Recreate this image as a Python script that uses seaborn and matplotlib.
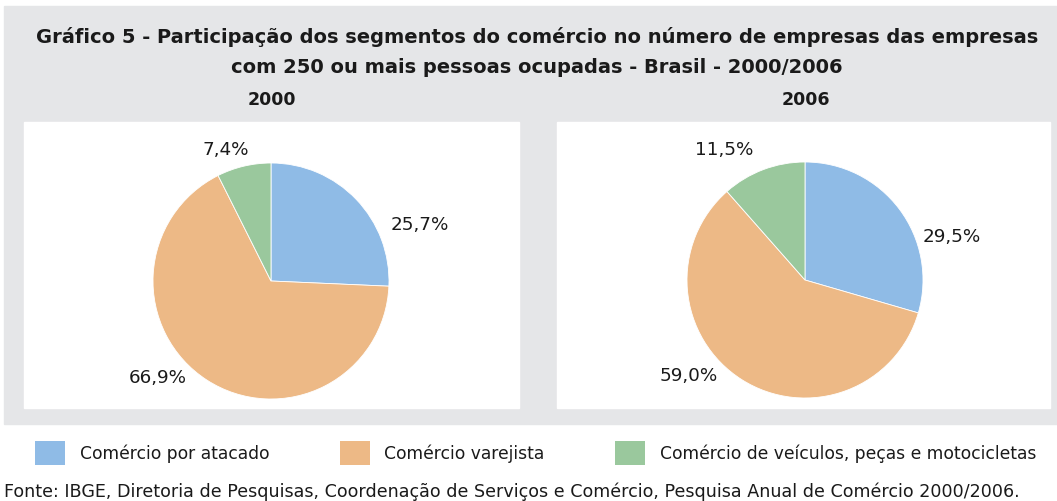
import numpy as np
import matplotlib
matplotlib.use("Agg")
import matplotlib.pyplot as plt
from matplotlib.patches import Rectangle, Patch
import seaborn as sns

# dados
categorias = ["Comércio por atacado", "Comércio varejista",
              "Comércio de veículos, peças e motocicletas"]
anos = ["2000", "2006"]
part_2000 = [25.7, 66.9, 7.4]
part_2006 = [29.5, 59.0, 11.5]

titulo = ["Gráfico 5 - Participação dos segmentos do comércio no número de empresas das empresas",
          "com 250 ou mais pessoas ocupadas - Brasil - 2000/2006"]
fonte = ("Fonte: IBGE, Diretoria de Pesquisas, Coordenação de Serviços e Comércio, "
         "Pesquisa Anual de Comércio 2000/2006.")

cores = ["#8fbbe6", "#edb986", "#9ac89d"]
cinza = "#e5e6e8"
texto = "#1a1a1a"

sns.set_theme(style="white")
plt.rcParams["font.family"] = ["DejaVu Sans"]

W, H = 1057, 501
fig = plt.figure(figsize=(W / 100, H / 100), dpi=100)
ax = fig.add_axes([0, 0, 1, 1])

# fundo cinza e caixas brancas (em pixels, y para cima)
ax.add_patch(Rectangle((4, H - 424), W - 4, 418, color=cinza, zorder=0))
caixas = [(24, 122, 519, 408), (557, 122, 1050, 408)]
for x0, y0, x1, y1 in caixas:
    ax.add_patch(Rectangle((x0, H - y1), x1 - x0, y1 - y0, color="white", zorder=1))

for linha, y in zip(titulo, [37, 67]):
    ax.text(537, H - y, linha, ha="center", va="center", fontsize=14,
            fontweight="bold", color=texto)

# pizzas
centros = [(271, 281), (805, 280)]
raio = 118
# posicao dos rotulos: (angulo em graus, distancia / raio)
pos_rotulos = [
    [(20.6, 1.35), (-139.4, 1.26), (109.0, 1.17)],
    [(16.3, 1.30), (-140.6, 1.28), (122.0, 1.30)],
]

for i, valores in enumerate([part_2000, part_2006]):
    cx, cy = centros[i]
    cy = H - cy
    ax.pie(valores, colors=cores, startangle=90, counterclock=False,
           center=(cx, cy), radius=raio, frame=True,
           wedgeprops=dict(edgecolor="white", linewidth=0.6, zorder=2))
    for v, (ang, d) in zip(valores, pos_rotulos[i]):
        a = np.deg2rad(ang)
        ax.text(cx + d * raio * np.cos(a), cy + d * raio * np.sin(a),
                f"{v:.1f}".replace(".", ",") + "%", ha="center", va="center",
                fontsize=13.2, color=texto)
    ax.text(cx + 1, H - 100, anos[i], ha="center", va="center", fontsize=12.5,
            fontweight="bold", color=texto)

ax.set_xlim(0, W)
ax.set_ylim(0, H)
ax.set_aspect("auto")
ax.axis("off")

# legenda
handles = [Patch(facecolor=c, edgecolor="none") for c in cores]
fs = 12.35
fs_px = fs * 100 / 72
ax.legend(handles, categorias, ncol=3, loc="center left",
          bbox_to_anchor=(35, H - 453), bbox_transform=ax.transData,
          frameon=False, fontsize=fs, borderpad=0, borderaxespad=0,
          handlelength=30 / fs_px, handleheight=31 / fs_px,
          handletextpad=15 / fs_px, columnspacing=70 / fs_px,
          labelcolor=texto)

ax.text(4, H - 492, fonte, ha="left", va="center", fontsize=12.6, color=texto)

fig.savefig("out.png", dpi=100)
